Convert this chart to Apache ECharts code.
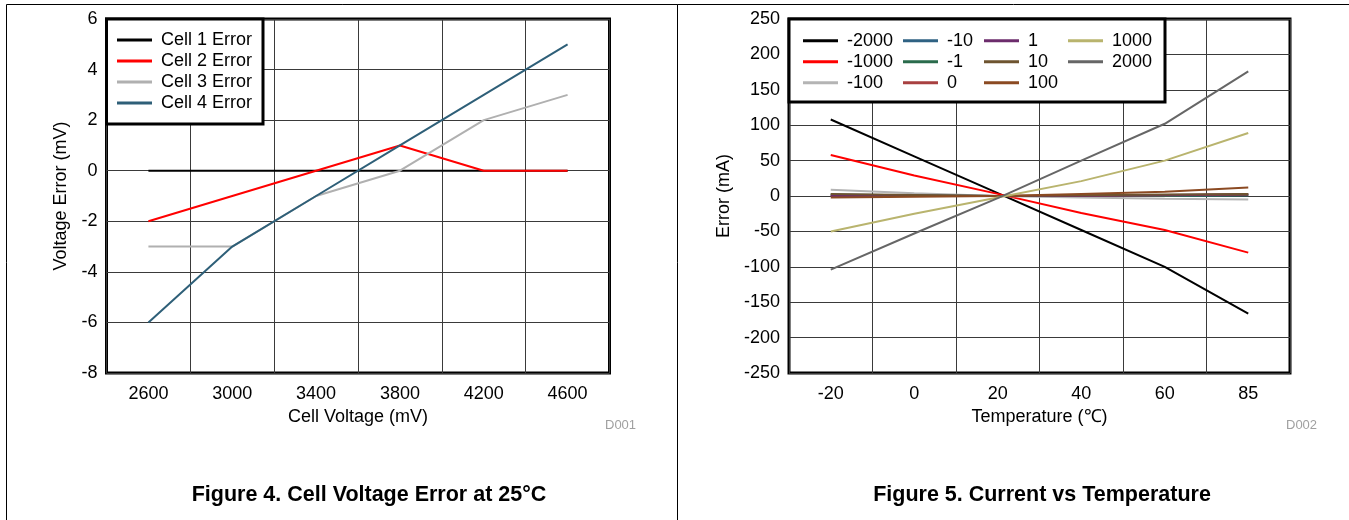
<!DOCTYPE html>
<html>
<head>
<meta charset="utf-8">
<script src="https://cdn.jsdelivr.net/npm/echarts@6/dist/echarts.min.js"></script>
<style>
html, body { margin: 0; padding: 0; background: #fff; }
#chart { width: 1349px; height: 520px; }
</style>
</head>
<body>
<div id="chart"></div>
<script>
// Figure 4 data
const voltages = ['2600', '3000', '3400', '3800', '4200', '4600'];
const cellNames = ['Cell 1 Error', 'Cell 2 Error', 'Cell 3 Error', 'Cell 4 Error'];
const cell1Error = [0, 0, 0, 0, 0, 0];
const cell2Error = [-2, -1, 0, 1, 0, 0];
const cell3Error = [-3, -3, -1, 0, 2, 3];
const cell4Error = [-6, -3, -1, 1, 3, 5];
const cellColors = ['#000000', '#ff0000', '#b0b0b0', '#2e5f78'];

// Figure 5 data
const temps = ['-20', '0', '20', '40', '60', '85'];
const loadNames = ['-2000', '-1000', '-100', '-10', '-1', '0', '1', '10', '100', '1000', '2000'];
const errM2000 = [108, 56, 4, -48, -100, -166];
const errM1000 = [58, 29, 3, -24, -48, -80];
const errM100 = [9, 4, 0, -2, -4, -5];
const errM10 = [2, 1, 0, 0, 0, 1];
const errM1 = [1, 0.5, 0, 0, 0.5, 1];
const err0 = [0.5, 0.3, 0, 0.3, 1, 2];
const err1 = [0, 0, 0, 0.5, 1.5, 2.5];
const err10 = [3, 1.5, 0, 1, 2, 3];
const err100 = [-2, -1, 0, 3, 6, 12];
const err1000 = [-50, -25, -2, 21, 50, 89];
const err2000 = [-104, -53, -3, 50, 102, 176];
const loadColors = ['#000000', '#ff0000', '#b4b4b4', '#2f6283', '#2a6b4c', '#a84040',
  '#6c2c6c', '#6e5430', '#8b4a22', '#b9b46e', '#666666'];

const font = "'Liberation Sans', Arial, sans-serif";
const gridLine = { show: true, lineStyle: { color: '#3a3a3a', width: 1 } };

const cellData = [cell1Error, cell2Error, cell3Error, cell4Error];
const loadData = [errM2000, errM1000, errM100, errM10, errM1, err0, err1, err10, err100, err1000, err2000];

function lineSeries(name, data, color, idx) {
  return {
    name: name,
    type: 'line',
    xAxisIndex: idx,
    yAxisIndex: idx,
    data: data,
    showSymbol: false,
    symbol: 'none',
    lineStyle: { color: color, width: 2 },
    itemStyle: { color: color },
    z: 3
  };
}

function legendCol(names, left, top) {
  return {
    data: names,
    orient: 'vertical',
    left: left,
    top: top,
    padding: 0,
    itemGap: 0,
    itemWidth: 35,
    itemHeight: 3,
    icon: 'rect',
    selectedMode: false,
    z: 60,
    textStyle: { fontFamily: font, fontSize: 18, color: '#000', lineHeight: 21, padding: [0, 0, 0, 4] }
  };
}

const series = [];
cellNames.forEach((n, i) => series.push(lineSeries(n, cellData[i], cellColors[i], 0)));
loadNames.forEach((n, i) => series.push(lineSeries(n, loadData[i], loadColors[i], 1)));

const axisLabel = { color: '#000', fontSize: 18, fontFamily: font };
const nameStyle = { color: '#000', fontSize: 18, fontFamily: font };

const option = {
  animation: false,
  backgroundColor: '#fff',
  grid: [
    { left: 106.5, top: 19, width: 503, height: 354, show: true, borderColor: '#000', borderWidth: 3, backgroundColor: 'transparent' },
    { left: 789, top: 19, width: 501, height: 354, show: true, borderColor: '#000', borderWidth: 3, backgroundColor: 'transparent' }
  ],
  xAxis: [
    {
      type: 'category', gridIndex: 0, data: voltages, boundaryGap: true,
      axisLine: { show: false }, axisTick: { show: false },
      axisLabel: Object.assign({ interval: 0, margin: 12 }, axisLabel),
      splitLine: Object.assign({ interval: 0 }, gridLine),
      name: 'Cell Voltage (mV)', nameLocation: 'middle', nameGap: 34, nameTextStyle: nameStyle
    },
    {
      type: 'category', gridIndex: 1, data: temps, boundaryGap: true,
      axisLine: { show: false }, axisTick: { show: false },
      axisLabel: Object.assign({ interval: 0, margin: 12 }, axisLabel),
      splitLine: Object.assign({ interval: 0 }, gridLine),
      name: 'Temperature (\u2103)', nameLocation: 'middle', nameGap: 34, nameTextStyle: nameStyle
    }
  ],
  yAxis: [
    {
      type: 'value', gridIndex: 0, min: -8, max: 6, interval: 2,
      axisLine: { show: false }, axisTick: { show: false },
      axisLabel: Object.assign({ margin: 9 }, axisLabel),
      splitLine: gridLine,
      name: 'Voltage Error (mV)', nameLocation: 'middle', nameGap: 36, nameTextStyle: nameStyle
    },
    {
      type: 'value', gridIndex: 1, min: -250, max: 250, interval: 50,
      axisLine: { show: false }, axisTick: { show: false },
      axisLabel: Object.assign({ margin: 9 }, axisLabel),
      splitLine: gridLine,
      name: 'Error (mA)', nameLocation: 'middle', nameGap: 56, nameTextStyle: nameStyle
    }
  ],
  legend: [
    legendCol(cellNames, 117, 29.5),
    legendCol(loadNames.slice(0, 3), 803, 30.2),
    legendCol(loadNames.slice(3, 6), 903, 30.2),
    legendCol(loadNames.slice(6, 9), 984, 30.2),
    legendCol(loadNames.slice(9, 11), 1068, 30.2)
  ],
  graphic: [
    { type: 'line', shape: { x1: 6.5, y1: 4.5, x2: 1349, y2: 4.5 }, style: { stroke: '#000', lineWidth: 1 } },
    { type: 'line', shape: { x1: 6.5, y1: 4.5, x2: 6.5, y2: 520 }, style: { stroke: '#000', lineWidth: 1 } },
    { type: 'line', shape: { x1: 677.5, y1: 4.5, x2: 677.5, y2: 520 }, style: { stroke: '#000', lineWidth: 1 } },
    { type: 'rect', z: 50, shape: { x: 106.5, y: 19, width: 156.5, height: 105 }, style: { fill: '#fff', stroke: '#000', lineWidth: 3 } },
    { type: 'rect', z: 50, shape: { x: 789, y: 19, width: 376, height: 83 }, style: { fill: '#fff', stroke: '#000', lineWidth: 3 } },
    { type: 'text', style: { text: 'D001', x: 605, y: 425, fill: '#a0a0a0', font: '13px ' + font, textVerticalAlign: 'middle' } },
    { type: 'text', style: { text: 'D002', x: 1286, y: 425, fill: '#a0a0a0', font: '13px ' + font, textVerticalAlign: 'middle' } },
    { type: 'text', style: { text: 'Figure 4. Cell Voltage Error at 25\u00b0C', x: 369, y: 495, fill: '#000', font: 'bold 21.5px ' + font, textAlign: 'center', textVerticalAlign: 'middle' } },
    { type: 'text', style: { text: 'Figure 5. Current vs Temperature', x: 1042, y: 495, fill: '#000', font: 'bold 21.5px ' + font, textAlign: 'center', textVerticalAlign: 'middle' } }
  ],
  series: series
};

const chart = echarts.init(document.getElementById('chart'));
chart.setOption(option);
</script>
</body>
</html>
